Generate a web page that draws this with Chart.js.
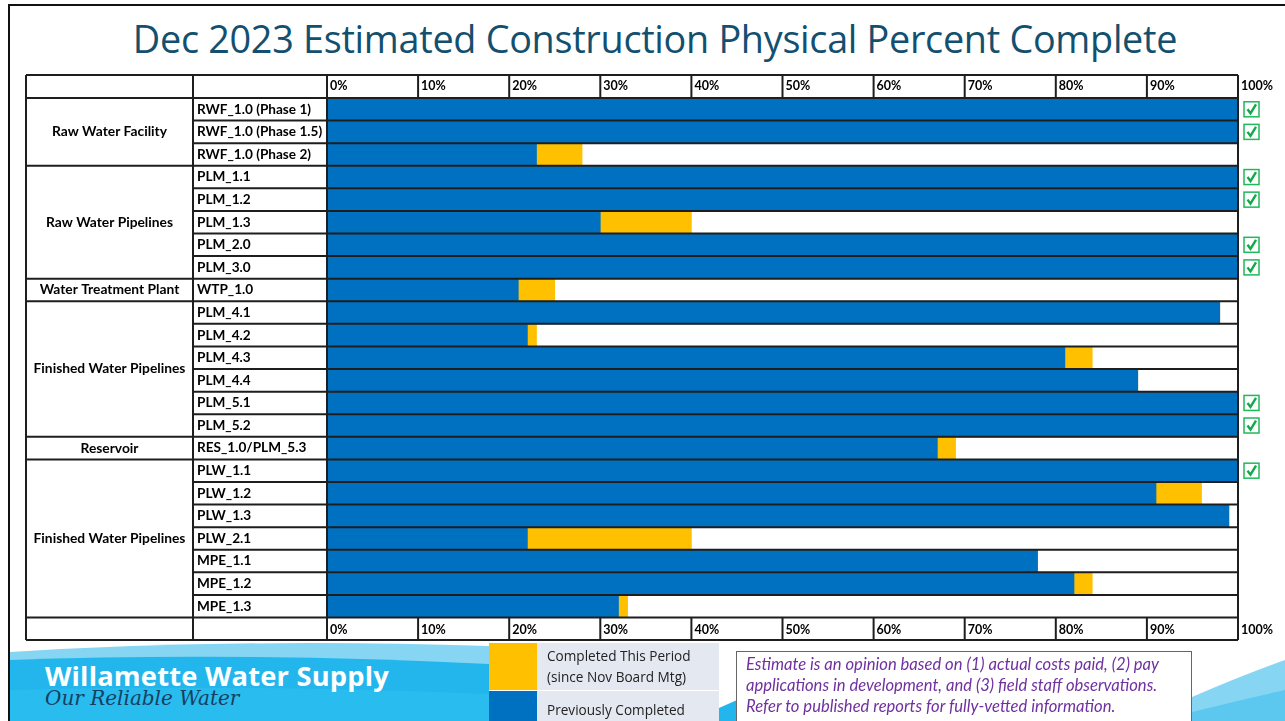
<!DOCTYPE html>
<html>
<head>
<meta charset="utf-8">
<script src="https://cdn.jsdelivr.net/npm/chart.js@4.4.0/dist/chart.umd.min.js"></script>
<style>
  body { margin: 0; width: 1285px; height: 721px; overflow: hidden; background: #fff; font-family: Lato, "Open Sans", sans-serif; position: relative; }
  .frame-top { position: absolute; left: 8px; top: 4px; right: 0; height: 2px; background: #111; }
  .frame-left { position: absolute; left: 8px; top: 4px; bottom: 0; width: 2px; background: #111; }
  #title { position: absolute; left: 0; width: 1310px; top: 13px; text-align: center; font-size: 37.8px; color: #13506f; font-family: "Open Sans", sans-serif; letter-spacing: -0.3px; }
  #footer { position: absolute; left: 10px; top: 636px; width: 1275px; height: 85px; }
  .brand { position: absolute; left: 45px; top: 657px; color: #fff; font-weight: bold; font-size: 27.3px; font-family: "Open Sans", sans-serif; letter-spacing: 0.2px; }
  .tagline { position: absolute; left: 45px; top: 686px; color: #173f5f; font-style: italic; font-size: 20px; font-family: "DejaVu Serif", serif; }
  .lg-box { position: absolute; left: 489px; width: 48px; }
  .lg-panel { position: absolute; left: 537px; width: 182px; background: #e4e9f1; color: #222; font-size: 13.6px; font-family: "Open Sans", sans-serif; padding-left: 10px; box-sizing: border-box; line-height: 21px; }
  #note { position: absolute; left: 736px; top: 651px; width: 456px; height: 80px; border: 1px solid #666; background: #fff; box-sizing: border-box; padding: 2px 0 0 9px; color: #7030a0; font-style: italic; font-size: 16.6px; line-height: 21px; font-family: Lato, sans-serif; white-space: nowrap; }
  #wrap { position: absolute; left: 0; top: 0; width: 1285px; height: 721px; }
</style>
</head>
<body>
<div class="frame-top"></div>
<div class="frame-left"></div>
<div id="title">Dec 2023 Estimated Construction Physical Percent Complete</div>

<svg id="footer" width="1275" height="85" viewBox="10 636 1275 85">
  <path d="M10,652 Q240,638 489,646 L489,721 L10,721 Z" fill="#86d5f3"/>
  <path d="M10,660 Q240,652 489,664 L489,721 L10,721 Z" fill="#22b6ec"/>
  <path d="M10,690 Q240,684 489,694 L489,721 L10,721 Z" fill="#29bcef"/>
  <path d="M719,721 L719,708 L737,700 L737,721 Z" fill="#22b6ec"/>
  <path d="M1192,697 Q1240,676 1285,660 L1285,721 L1192,721 Z" fill="#86d5f3"/>
  <path d="M1192,712 Q1240,700 1285,690 L1285,721 L1192,721 Z" fill="#5cc8f0"/>
</svg>
<div class="brand">Willamette Water Supply</div>
<div class="tagline">Our Reliable Water</div>

<div id="wrap"><canvas id="chart"></canvas></div>

<div class="lg-box" id="lgThis" style="top:643px;height:47px;"></div>
<div class="lg-box" id="lgPrev" style="top:691px;height:30px;"></div>
<div class="lg-panel" style="top:643px;height:47px;padding-top:2px;">Completed This Period<br>(since Nov Board Mtg)</div>
<div class="lg-panel" style="top:691px;height:30px;padding-top:8px;">Previously Completed</div>
<div id="note">Estimate is an opinion based on (1) actual costs paid, (2) pay<br>applications in development, and (3) field staff observations.<br>Refer to published reports for fully-vetted information.</div>

<script>
// rows of the table, top to bottom
const projects = ['RWF_1.0 (Phase 1)', 'RWF_1.0 (Phase 1.5)', 'RWF_1.0 (Phase 2)',
  'PLM_1.1', 'PLM_1.2', 'PLM_1.3', 'PLM_2.0', 'PLM_3.0',
  'WTP_1.0',
  'PLM_4.1', 'PLM_4.2', 'PLM_4.3', 'PLM_4.4', 'PLM_5.1', 'PLM_5.2',
  'RES_1.0/PLM_5.3',
  'PLW_1.1', 'PLW_1.2', 'PLW_1.3', 'PLW_2.1', 'MPE_1.1', 'MPE_1.2', 'MPE_1.3'];
const groupNames = ['Raw Water Facility', 'Raw Water Pipelines', 'Water Treatment Plant',
  'Finished Water Pipelines', 'Reservoir', 'Finished Water Pipelines'];
const groupSizes = [3, 5, 1, 6, 1, 7];

// percent complete
const previouslyCompleted = [100, 100, 23, 100, 100, 30, 100, 100, 21, 98, 22, 81, 89, 100, 100, 67, 100, 91, 99, 22, 78, 82, 32];
const completedThisPeriod = [0, 0, 5, 0, 0, 10, 0, 0, 4, 0, 1, 3, 0, 0, 0, 2, 0, 5, 0, 18, 0, 2, 1];
const done = [true, true, false, true, true, false, true, true, false, false, false, false, false, true, true, false, true, false, false, false, false, false, false];

const tickValues = [0, 10, 20, 30, 40, 50, 60, 70, 80, 90, 100];

const BLUE = '#0070c0';
const ORANGE = '#ffc000';
document.getElementById('lgThis').style.background = ORANGE;
document.getElementById('lgPrev').style.background = BLUE;

const TABLE_LEFT = 26, COL2_LEFT = 193, HEAD_TOP = 75, FOOT_BOTTOM = 640;
const LINE = '#1e1e1e';

const tablePlugin = {
  id: 'table',
  afterDatasetsDraw(chart) {
    const ctx = chart.ctx;
    const area = chart.chartArea;
    const x = chart.scales.x;
    const y = chart.scales.y;
    const n = projects.length;
    const edge = i => {
      if (i <= 0) return area.top;
      if (i >= n) return area.bottom;
      return (y.getPixelForValue(i - 1) + y.getPixelForValue(i)) / 2;
    };

    ctx.save();
    ctx.strokeStyle = LINE;
    ctx.lineWidth = 2;
    ctx.beginPath();
    // row lines across label column and plot
    for (let i = 1; i < n; i++) {
      ctx.moveTo(COL2_LEFT, edge(i));
      ctx.lineTo(area.right, edge(i));
    }
    // group lines in first column
    let k = 0;
    groupSizes.forEach(s => {
      k += s;
      if (k < n) {
        ctx.moveTo(TABLE_LEFT, edge(k));
        ctx.lineTo(COL2_LEFT, edge(k));
      }
    });
    // header / footer rows
    [HEAD_TOP, area.top, area.bottom, FOOT_BOTTOM].forEach(yy => {
      ctx.moveTo(TABLE_LEFT, yy);
      ctx.lineTo(area.right, yy);
    });
    // column lines
    [TABLE_LEFT, COL2_LEFT, area.left, area.right].forEach(xx => {
      ctx.moveTo(xx, HEAD_TOP);
      ctx.lineTo(xx, FOOT_BOTTOM);
    });
    // tick separators in header and footer rows
    tickValues.forEach(v => {
      const px = x.getPixelForValue(v);
      ctx.moveTo(px, HEAD_TOP);
      ctx.lineTo(px, area.top);
      ctx.moveTo(px, area.bottom);
      ctx.lineTo(px, FOOT_BOTTOM);
    });
    ctx.stroke();

    // group names
    ctx.fillStyle = '#000';
    ctx.font = 'bold 13.8px Lato';
    ctx.textAlign = 'center';
    ctx.textBaseline = 'middle';
    k = 0;
    groupSizes.forEach((s, g) => {
      const cy = (edge(k) + edge(k + s)) / 2;
      ctx.fillText(groupNames[g], (TABLE_LEFT + COL2_LEFT) / 2, cy);
      k += s;
    });

    // check boxes for finished projects
    done.forEach((d, i) => {
      if (!d) return;
      const cy = y.getPixelForValue(i);
      const bx = area.right + 6, by = cy - 7.5;
      ctx.strokeStyle = '#21b85a';
      ctx.lineWidth = 1.5;
      ctx.strokeRect(bx, by, 15, 15);
      ctx.strokeStyle = '#13a84a';
      ctx.lineWidth = 2.4;
      ctx.beginPath();
      ctx.moveTo(bx + 3.5, by + 7.5);
      ctx.lineTo(bx + 6.5, by + 11.5);
      ctx.lineTo(bx + 12, by + 2.5);
      ctx.stroke();
    });
    ctx.restore();
  }
};

const xTicks = {
  color: '#000',
  font: { family: 'Lato', weight: 'bold', size: 12.5 },
  align: 'start',
  labelOffset: 3,
  padding: 5,
  autoSkip: false,
  maxRotation: 0,
  callback: v => v + '%'
};

new Chart(document.getElementById('chart'), {
  type: 'bar',
  data: {
    labels: projects,
    datasets: [{
      label: 'Previously Completed',
      data: previouslyCompleted,
      backgroundColor: BLUE,
      barPercentage: 1,
      categoryPercentage: 1
    }, {
      label: 'Completed This Period (since Nov Board Mtg)',
      data: completedThisPeriod,
      backgroundColor: ORANGE,
      barPercentage: 1,
      categoryPercentage: 1
    }]
  },
  options: {
    indexAxis: 'y',
    responsive: true,
    maintainAspectRatio: false,
    animation: false,
    layout: { padding: { left: 197, right: 47, top: 75, bottom: 81 } },
    plugins: { legend: { display: false }, tooltip: { enabled: false } },
    scales: {
      x: {
        type: 'linear', position: 'top', stacked: true, min: 0, max: 100,
        afterBuildTicks: s => { s.ticks = tickValues.map(v => ({ value: v })); },
        afterFit: s => { s.height = 23; },
        grid: { display: false, drawTicks: false }, border: { display: false },
        ticks: xTicks
      },
      x2: {
        type: 'linear', position: 'bottom', min: 0, max: 100,
        afterBuildTicks: s => { s.ticks = tickValues.map(v => ({ value: v })); },
        afterFit: s => { s.height = 22.5; },
        grid: { display: false, drawTicks: false }, border: { display: false },
        ticks: xTicks
      },
      y: {
        stacked: true,
        afterFit: s => { s.width = 130; },
        grid: { display: false, drawTicks: false }, border: { display: false },
        ticks: { color: '#000', crossAlign: 'far', autoSkip: false, font: { family: 'Lato', weight: 'bold', size: 13.6 } }
      }
    }
  },
  plugins: [tablePlugin]
});
</script>
</body>
</html>
